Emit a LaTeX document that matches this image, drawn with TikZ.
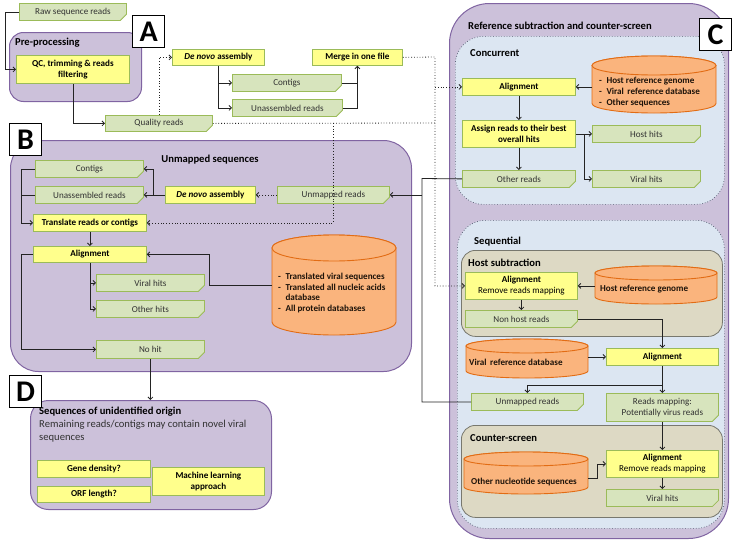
\documentclass[tikz,border=0pt]{standalone}
\usepackage{fontspec}
\setmainfont{Carlito}
\usetikzlibrary{arrows.meta,shapes.misc}

\definecolor{pfill}{RGB}{204,193,218}
\definecolor{pdraw}{RGB}{128,100,162}
\definecolor{bfill}{RGB}{220,230,242}
\definecolor{bdraw}{RGB}{80,90,110}
\definecolor{tfill}{RGB}{221,217,196}
\definecolor{tdraw}{RGB}{120,120,110}
\definecolor{yfill}{RGB}{255,255,140}
\definecolor{gfill}{RGB}{215,228,189}
\definecolor{gdraw}{RGB}{155,187,89}
\definecolor{ofill}{RGB}{250,180,125}
\definecolor{odraw}{RGB}{226,108,20}
\definecolor{txt}{RGB}{50,50,50}
\definecolor{ln}{RGB}{35,35,35}

\newcommand\fsbox{\fontsize{9.1}{10.8}\selectfont}
\newcommand\fstitle{\fontsize{10.6}{13}\selectfont}

\tikzset{
  preg/.style={fill=pfill, draw=pdraw, line width=1pt, inner sep=0pt},
  breg/.style={fill=bfill, draw=bdraw, dotted, line width=0.7pt, inner sep=0pt},
  treg/.style={fill=tfill, draw=tdraw, line width=0.8pt, inner sep=0pt},
  gbox/.style={chamfered rectangle, chamfered rectangle corners=south east,
    chamfered rectangle xsep=3pt, chamfered rectangle ysep=3pt,
    fill=gfill, draw=gdraw, line width=0.8pt, font=\fsbox, text=txt,
    inner xsep=1pt, inner ysep=1pt, align=center},
  ybox/.style={rectangle, fill=yfill, draw=gdraw, line width=0.8pt,
    font=\fsbox\bfseries, text=black, inner xsep=1pt, inner ysep=1pt, align=center},
  dbline/.style={fill=ofill, draw=odraw, line width=0.9pt},
  dbtext/.style={font=\fsbox\bfseries, text=black!85!brown, align=left, inner sep=0pt},
  ttl/.style={font=\fstitle\bfseries, text=black, inner sep=0pt},
  lab/.style={draw=black, line width=1.3pt, fill=white, minimum width=32pt, minimum height=32pt,
    inner sep=0pt, anchor=north west, font=\fontsize{30}{30}\selectfont\bfseries},
  arr/.style={draw=ln, line width=0.8pt, -{Straight Barb[length=2.5pt,width=5pt]}},
  ln/.style={draw=ln, line width=0.8pt},
  dotarr/.style={draw=ln, line width=0.8pt, dotted, -{Straight Barb[length=2.5pt,width=5pt]}},
  dotln/.style={draw=ln, line width=0.8pt, dotted},
}

% style, name, x1, y1, x2, y2, radius
\newcommand\mkregion[7]{\node[#1, rounded corners=#7pt, anchor=north west,
  minimum width={(#5-#3)*1pt}, minimum height={(#6-#4)*1pt}] (#2) at (#3,#4) {};}
% style, name, x, y, w, h, text
\newcommand\mkbox[7]{\node[#1, anchor=north west, minimum width=#5pt, minimum height=#6pt] (#2) at (#3,#4) {#7};}
% name, x1, y1, x2, y2, ry
\newcommand\mkdb[6]{%
  \pgfmathsetmacro\dbrx{(#4-#2)/2}%
  \pgfmathsetmacro\dbcx{(#4+#2)/2}%
  \filldraw[dbline] (#2,#3+#6) -- (#2,#5-#6) arc[start angle=180,end angle=360,x radius=\dbrx pt,y radius=#6pt]
     -- (#4,#3+#6) arc[start angle=0,end angle=180,x radius=\dbrx pt,y radius=#6pt] -- cycle;
  \draw[dbline] (\dbcx,#3+#6) ellipse[x radius=\dbrx pt,y radius=#6pt];
  \node[inner sep=0pt, anchor=north west, minimum width={(#4-#2)*1pt}, minimum height={(#5-#3)*1pt}] (#1) at (#2,#3) {};
}

\begin{document}
\begin{tikzpicture}[x=1pt,y=-1pt]
\useasboundingbox (0,0) rectangle (736,546);

% ---------- regions ----------
\mkregion{preg}{regA}{9}{32}{141}{101}{14}
\mkregion{preg}{regB}{10}{140}{411}{371}{28}
\mkregion{preg}{regD}{30}{400}{271}{509}{18}
\mkregion{preg}{regC}{449}{3}{728}{538}{40}
\mkregion{breg}{regConc}{455}{36}{724}{204}{28}
\mkregion{breg}{regSeq}{457}{220}{724}{528}{28}
\mkregion{treg}{regHost}{461}{250}{722}{336}{14}
\mkregion{treg}{regCS}{461}{425}{722}{517}{14}

% ---------- titles ----------
\node[ttl, anchor=west] (tA) at (15,43) {Pre-processing};
\node[ttl] (tB) at (210,160) {Unmapped sequences};
\node[ttl, anchor=west] (tC) at (468,26) {Reference subtraction and counter-screen};
\node[ttl, anchor=west] (tConc) at (470,53) {Concurrent};
\node[ttl, anchor=west] (tSeq) at (474,242) {Sequential};
\node[ttl, anchor=west] (tHost) at (468,263) {Host subtraction};
\node[ttl, anchor=west] (tCS) at (470,438) {Counter-screen};
\node[anchor=north west, align=left, font=\fstitle, inner sep=0pt, text=txt] (tD) at (39,407)
  {\textbf{\color{black}Sequences of unidentified origin}\\Remaining reads/contigs may contain novel viral\\sequences};

% ---------- cylinders ----------
\mkdb{dbB}{272}{235}{396}{335}{13}
\node[dbtext, anchor=west] (dbBt) at (278,293)
  {-\enspace Translated viral sequences\\-\enspace Translated all nucleic acids\\\phantom{-\enspace}database\\-\enspace All protein databases};
\mkdb{dbC1}{592}{56}{716}{113}{9.5}
\node[dbtext, anchor=west] (dbC1t) at (599,92)
  {-\enspace Host reference genome\\-\enspace Viral\, reference database\\-\enspace Other sequences};
\mkdb{dbHost}{595}{266}{717}{304}{7}
\node[dbtext, anchor=west] (dbHostt) at (600,289) {Host reference genome};
\mkdb{dbViral}{466}{339}{588}{378}{7}
\node[dbtext, anchor=west] (dbViralt) at (469,362) {Viral\, reference database};
\mkdb{dbOther}{464}{452}{588}{494}{7}
\node[dbtext] (dbOthert) at (524,482) {Other nucleotide sequences};

% ---------- A ----------
\mkbox{gbox}{raw}{19}{3}{107}{17}{Raw sequence reads}
\mkbox{ybox}{qc}{16}{55}{113}{28}{QC, trimming \& reads\\filtering}
\mkbox{gbox}{qual}{105}{115}{107}{16}{Quality reads}
\mkbox{ybox}{denovoA}{172}{49}{92}{16}{\textit{De novo} assembly}
\mkbox{gbox}{contigsA}{232}{74}{109}{17}{Contigs}
\mkbox{gbox}{unasmA}{232}{99}{110}{17}{Unassembled reads}
\mkbox{ybox}{merge}{312}{49}{90}{16}{Merge in one file}

% ---------- B ----------
\mkbox{gbox}{contigsB}{35}{160}{108}{17}{Contigs}
\mkbox{gbox}{unasmB}{35}{186}{108}{17}{Unassembled reads}
\mkbox{ybox}{denovoB}{165}{186}{90}{17}{\textit{De novo} assembly}
\mkbox{gbox}{unmappedB}{277}{186}{112}{17}{Unmapped reads}
\mkbox{ybox}{translate}{33}{214}{113}{17}{Translate reads or contigs}
\mkbox{ybox}{alignB}{33}{246}{113}{16}{Alignment}
\mkbox{gbox}{viralB}{96}{274}{108}{17}{Viral hits}
\mkbox{gbox}{otherhits}{96}{300}{108}{17}{Other hits}
\mkbox{gbox}{nohit}{96}{340}{108}{18}{No hit}

% ---------- D ----------
\mkbox{ybox}{gene}{37}{460}{113}{17}{Gene density?}
\mkbox{ybox}{orf}{37}{486}{113}{16}{ORF length?}
\mkbox{ybox}{ml}{152}{467}{112}{28}{Machine learning\\approach}

% ---------- C ----------
\mkbox{ybox}{alignC1}{462}{78}{113}{17}{Alignment}
\mkbox{ybox}{assign}{462}{120}{113}{27}{Assign reads to their best\\overall hits}
\mkbox{gbox}{otherreads}{462}{170}{113}{17}{Other reads}
\mkbox{gbox}{hosthits}{592}{125}{108}{17}{Host hits}
\mkbox{gbox}{viralC1}{592}{170}{108}{17}{Viral hits}
\mkbox{ybox}{alignHost}{465}{272}{112}{27}{Alignment\\\mdseries Remove reads mapping}
\mkbox{gbox}{nonhost}{465}{310}{112}{17}{Non host reads}
\mkbox{ybox}{alignSeq}{606}{348}{112}{17}{Alignment}
\mkbox{gbox}{unmappedC}{471}{393}{112}{17}{Unmapped reads}
\mkbox{gbox}{readsmap}{606}{393}{112}{28}{Reads mapping:\\Potentially virus reads}
\mkbox{ybox}{alignCS}{606}{450}{112}{27}{Alignment\\\mdseries Remove reads mapping}
\mkbox{gbox}{viralCS}{606}{489}{112}{17}{Viral hits}

% ---------- junction coordinates ----------
\coordinate (jq) at (435,123);
\coordinate (jt) at (333,123);
\coordinate (jm) at (435,57);
\coordinate (jo) at (422,178.5);
\coordinate (jd) at (153,194.5);
\coordinate (js) at (662,385);

% ---------- connectors (A) ----------
\draw[arr] (raw.west) -- ++(-14,0) |- (qc.west);
\draw[arr] (qc.south) |- (qual.west);
\draw[dotarr] (qual.north) |- (denovoA.west);
\draw[arr] (denovoA.south) |- (contigsA.west);
\draw[arr] (denovoA.south) |- (unasmA.west);
\draw[arr] (contigsA.east) -| (merge.south);
\draw[ln] (unasmA.east) -| (merge.south);

% dotted distribution
\draw[dotln] (qual.east) -- (jq);
\draw[dotarr] (merge.east) -- (jm) |- (alignHost.west);
\draw[dotarr] (alignC1.west -| jm) -- (alignC1.west);

% ---------- connectors (B) ----------
\draw[dotarr] (jt) |- (translate.east);
\draw[dotarr] (unmappedB.west) -- (denovoB.east);
\draw[arr] (denovoB.west) -- (unasmB.east);
\draw[arr] (jd) |- (contigsB.east);
\draw[arr] (contigsB.west) -- ++(-14,0) |- (translate.west);
\draw[ln] (unasmB.west) -- ++(-14,0);
\draw[arr] (translate.south) -- (alignB.north);
\draw[arr] (alignB.west) -- ++(-12,0) |- (nohit.west);
\draw[arr] (alignB.south) |- (viralB.west);
\draw[arr] (alignB.south) |- (otherhits.west);
\draw[arr] (dbB.west) -- ++(-63,0) |- (alignB.east);
\draw[arr] (nohit.south) -- (nohit.south |- regD.north);

% ---------- connectors (C) ----------
\draw[arr] (dbC1.west |- alignC1.east) -- (alignC1.east);
\draw[arr] (alignC1.south) -- (assign.north);
\draw[arr] (assign.south) -- (otherreads.north);
\draw[arr] (assign.east) -- (hosthits.west);
\draw[arr] (assign.east) -- ++(9,0) |- (viralC1.west);
\draw[ln] (otherreads.west) -- (jo) |- (unmappedC.west);
\draw[arr] (jo |- unmappedB.east) -- (unmappedB.east);
\draw[arr] (dbHost.west |- alignHost.east) -- (alignHost.east);
\draw[arr] (alignHost.south) -- (nonhost.north);
\draw[arr] (nonhost.east) -| (alignSeq.north);
\draw[arr] (dbViral.east |- alignSeq.west) -- (alignSeq.west);
\draw[arr] (alignSeq.south) -- (readsmap.north);
\draw[arr] (js) -| (unmappedC.north);
\draw[arr] (readsmap.south) -- (alignCS.north);
\draw[arr] ([yshift=-5pt]dbOther.east) -- ++(9,0) |- (alignCS.west);
\draw[arr] (alignCS.south) -- (viralCS.north);

% ---------- labels ----------
\node[lab] (labA) at (132,15) {A};
\node[lab] (labB) at (9,123) {B};
\node[lab] (labC) at (699,18) {C};
\node[lab] (labD) at (9,375) {D};
\end{tikzpicture}
\end{document}
